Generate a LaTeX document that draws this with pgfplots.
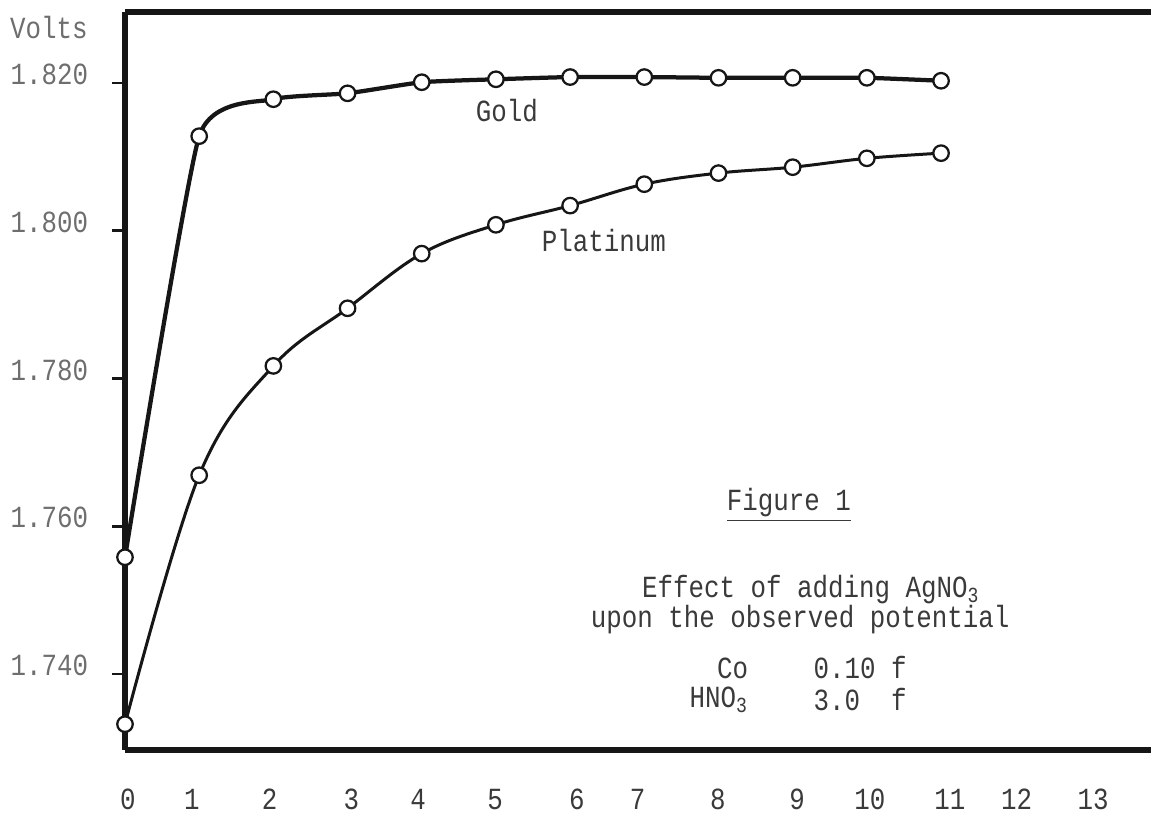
\documentclass[border=0pt]{standalone}
\usepackage{pgfplots}
\pgfplotsset{compat=1.18}
\usepackage{pgfplotstable}
\usepackage{fontspec}
\setmainfont[FakeStretch=0.84]{Liberation Mono}

\definecolor{ink}{HTML}{161616}
\definecolor{typegray}{HTML}{6E6E6E}
\definecolor{typedark}{HTML}{3A3A3A}

% amount of AgNO3 added vs observed potential (volts)
\pgfplotstableread{
x   gold    platinum
0   1.7558  1.7332
1   1.8128  1.7669
2   1.8178  1.7817
3   1.8186  1.7895
4   1.8201  1.7969
5   1.8205  1.8008
6   1.8208  1.8034
7   1.8208  1.8063
8   1.8207  1.8078
9   1.8207  1.8086
10  1.8207  1.8098
11  1.8203  1.8105
}\potential

\begin{document}
\begin{tikzpicture}[font=\fontsize{12.3}{14}\selectfont]
\begin{axis}[
    scale only axis,
    width=410.4pt, height=295.2pt,
    xmin=0, xmax=13.83,
    ymin=1.72971, ymax=1.82961,
    axis x line*=box, axis y line*=left,
    axis line style={line width=2.3pt, ink},
    xtick={0.04,0.9,1.95,3.05,3.95,4.99,6.09,6.91,7.99,9.06,10.04,11.12,12.02,13.05},
    xticklabels={0,1,2,3,4,5,6,7,8,9,10,11,12,13},
    xtick style={draw=none},
    xticklabel style={typedark, yshift=-7pt},
    ytick={1.74,1.76,1.78,1.80,1.82},
    yticklabels={1.740,1.760,1.780,1.800,1.820},
    ytick pos=left,
    tick align=outside,
    major tick length=5.2pt,
    ytick style={line width=1.1pt, ink},
    yticklabel style={typegray, xshift=-6pt, yshift=3.4pt},
    clip=false,
]
\addplot[ink, line width=1.7pt, smooth, tension=0.3,
    mark=*, mark size=3.1pt, mark options={fill=white, draw=ink, line width=0.9pt}]
    table[x=x, y=gold] {\potential};
\addplot[ink, line width=1.2pt, smooth, tension=0.6,
    mark=*, mark size=3.1pt, mark options={fill=white, draw=ink, line width=0.9pt}]
    table[x=x, y=platinum] {\potential};

\node[typegray, anchor=east] at ([xshift=-11.4pt]axis cs:0,1.82745) {Volts};
\node[typedark] at (axis cs:5.148,1.8162) {Gold};
\node[typedark] at (axis cs:6.455,1.79861) {Platinum};

\node[typedark] at (axis cs:8.95,1.76288) {\underline{Figure 1}};
\node[typedark] at (axis cs:9.245,1.75137) {Effect of adding AgNO\textsubscript{3}};
\node[typedark] at (axis cs:9.10,1.74731) {upon the observed potential};
\node[typedark, anchor=east] at (axis cs:8.52,1.74081) {Co};
\node[typedark, anchor=west] at (axis cs:9.164,1.74081) {0.10 f};
\node[typedark, anchor=east] at (axis cs:8.52,1.73648) {HNO\textsubscript{3}};
\node[typedark, anchor=west] at (axis cs:9.164,1.73648) {3.0\ \ f};

\coordinate (ll) at (rel axis cs:0,0);
\coordinate (ur) at (rel axis cs:1,1);
\end{axis}
\pgfresetboundingbox
\path ([shift={(-50pt,-26.4pt)}]ll) rectangle ([shift={(0pt,4.8pt)}]ur);
\end{tikzpicture}
\end{document}
